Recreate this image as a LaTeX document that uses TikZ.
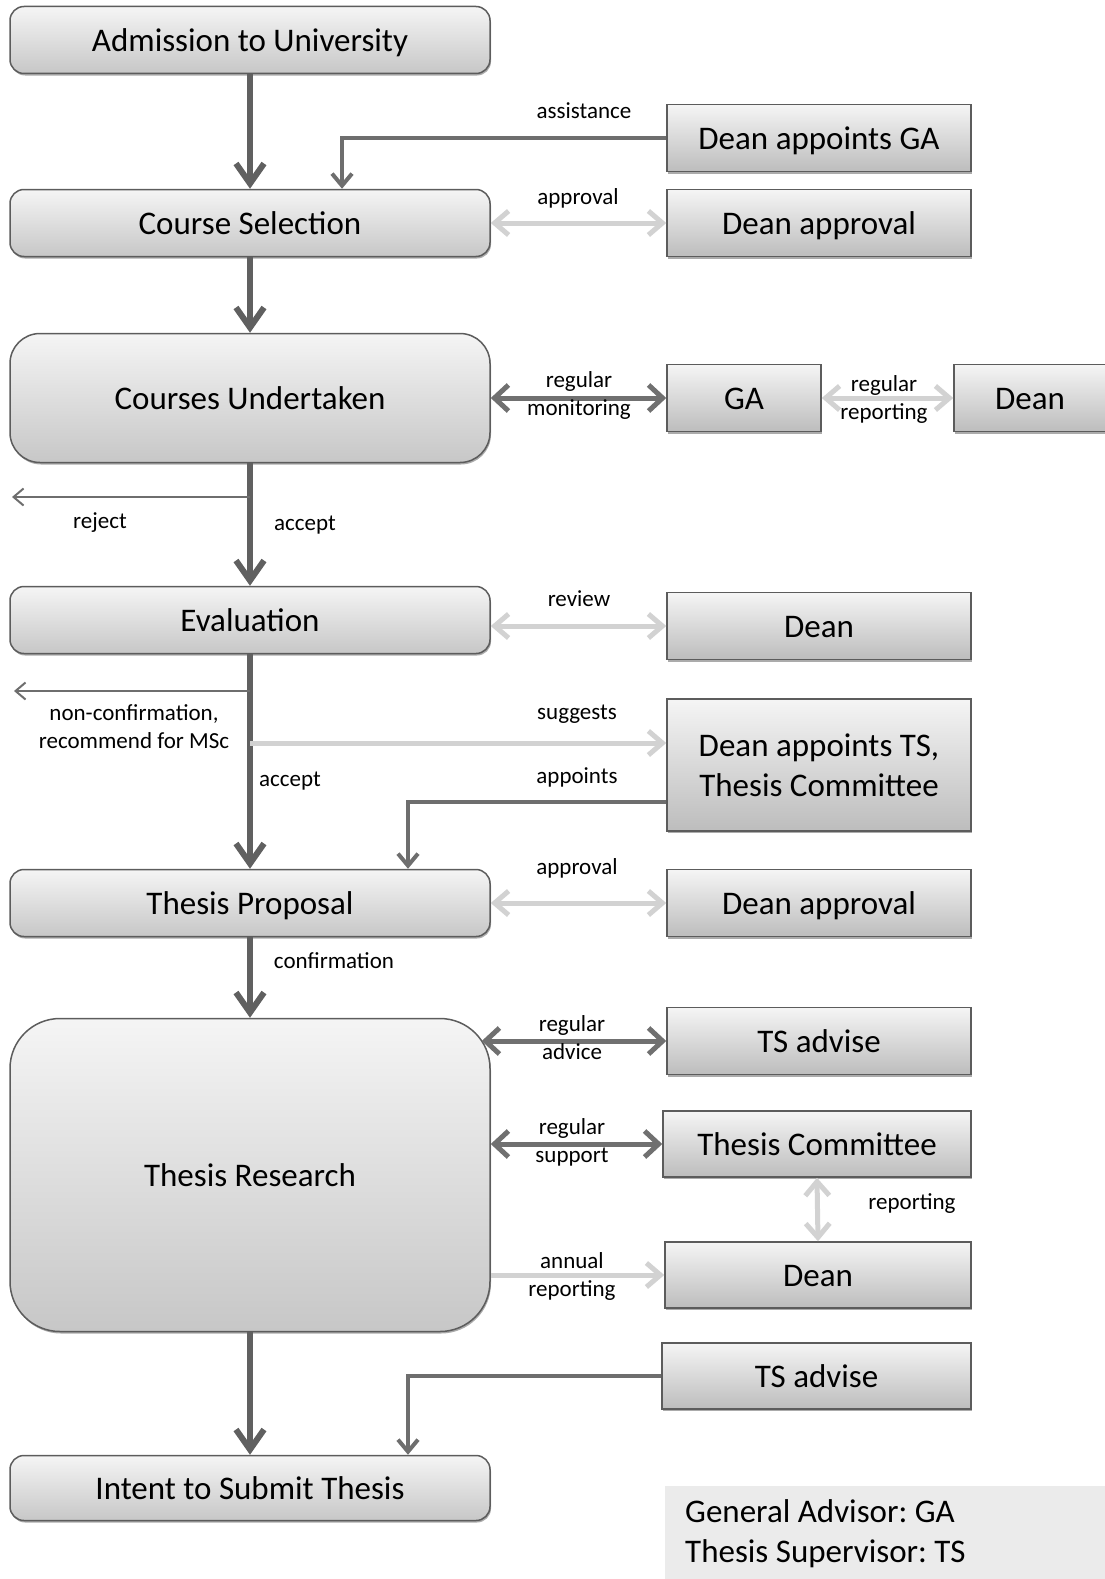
\documentclass[tikz,border=0pt]{standalone}
\usepackage{fontspec}
\setmainfont{Carlito}
\frenchspacing
\usetikzlibrary{arrows.meta, positioning, shadows, calc}
\definecolor{arrdark}{HTML}{606060}
\definecolor{arrmidc}{HTML}{6E6E6E}
\definecolor{arrlight}{HTML}{D2D2D2}
\definecolor{boxline}{HTML}{5C5C5C}
\newcommand{\bigtxt}{\fontsize{33}{40}\selectfont}
\newcommand{\smalltxt}{\fontsize{23}{28}\selectfont}

\begin{document}
\begin{tikzpicture}[x=1pt, y=-1pt,
  proc/.style={draw=boxline, line width=1.5pt, rounded corners=14pt, top color=black!4, bottom color=black!22, drop shadow={shadow xshift=1pt, shadow yshift=-2pt, fill=black!55, opacity=0.6}, minimum width=480pt, minimum height=67pt, text height=27pt, text depth=4pt, align=center, font=\bigtxt},
  rbox/.style={draw=boxline, line width=1.5pt, top color=black!4, bottom color=black!26, drop shadow={shadow xshift=1pt, shadow yshift=-2pt, fill=black!55, opacity=0.6}, minimum width=304pt, minimum height=67pt, text height=27pt, text depth=4pt, align=center, font=\bigtxt},
  legend/.style={fill=black!8, minimum width=440pt, minimum height=95pt, text width=400pt, inner xsep=20pt, align=flush left, font=\bigtxt},
  lbl/.style={inner sep=0pt, yshift=-2pt, align=center, font=\smalltxt},
  arrmain/.style={draw=arrdark, line width=6pt, -{Straight Barb[length=20pt, width=28pt, line width=6pt]}},
  arrmid/.style={draw=arrmidc, line width=4pt, -{Straight Barb[length=12pt, width=20pt, line width=4pt]}},
  arrthin/.style={draw=arrmidc, line width=2pt, -{Straight Barb[length=10pt, width=17pt, line width=2pt]}},
  arrdbl/.style={draw=arrdark!90, line width=5pt, {Straight Barb[length=14pt, width=26pt, line width=5pt]}-{Straight Barb[length=14pt, width=26pt, line width=5pt]}},
  arrlt/.style={draw=arrlight, line width=5pt, {Straight Barb[length=14pt, width=24pt, line width=5pt]}-{Straight Barb[length=14pt, width=24pt, line width=5pt]}},
  arrltone/.style={draw=arrlight, line width=5pt, -{Straight Barb[length=14pt, width=24pt, line width=5pt]}}
]
\useasboundingbox (0,0) rectangle (1104,1579);

\node[proc] (adm) at (250,40) {Admission to University};
\node[proc] (cs) at (250,223) {Course Selection};
\node[proc, minimum height=129pt, rounded corners=30pt] (cu) at (250,398) {Courses Undertaken};
\node[proc] (ev) at (250,620) {Evaluation};
\node[proc] (tp) at (250,903) {Thesis Proposal};
\node[proc, minimum height=313pt, rounded corners=50pt] (tr) at (250,1175) {Thesis Research};
\node[proc, minimum height=65pt] (its) at (250,1488) {Intent to Submit Thesis};

\node[rbox] (dga) at (819,138) {Dean appoints GA};
\node[rbox] (da1) at (819,223) {Dean approval};
\node[rbox, minimum width=154pt] (ga) at (744,398) {GA};
\node[rbox, minimum width=152pt] (dn1) at (1030,398) {Dean};
\node[rbox] (dn2) at (819,626) {Dean};
\node[rbox, minimum height=132pt, text height=67pt] (dts) at (819,765) {Dean appoints TS,\\Thesis Committee};
\node[rbox] (da2) at (819,903) {Dean approval};
\node[rbox] (ta1) at (819,1041) {TS advise};
\node[rbox, minimum width=308pt, minimum height=66pt] (tc) at (817,1144) {Thesis Committee};
\node[rbox, minimum width=306pt, minimum height=66pt] (dn3) at (818,1275) {Dean};
\node[rbox, minimum width=309pt, minimum height=66pt] (ta2) at (816.5,1376) {TS advise};

\node[legend, anchor=north west] (key) at (665,1486) {General Advisor: GA\\Thesis Supervisor: TS};

\coordinate (rejfork) at (250,497);
\coordinate (rejend) at (12,497);
\coordinate (ncfork) at (250,691);
\coordinate (ncend) at (14,691);
\coordinate (sugfork) at (250,743);

\draw[arrmain] (adm) -- (cs);
\draw[arrmain] (cs) -- (cu);
\draw[arrmain] (cu) -- (ev);
\draw[arrmain] (ev) -- (tp);
\draw[arrmain] (tp) -- (tr);
\draw[arrmain] (tr) -- (its);

\draw[arrthin] (rejfork) -- (rejend);
\draw[arrthin] (ncfork) -- (ncend);
\draw[arrltone] (sugfork) -- (dts.west |- sugfork);

\draw[arrmid] (dga.west) -| ([xshift=92pt]cs.north);
\draw[arrlt] (cs.east) -- (da1.west);
\draw[arrdbl] (cu.east) -- (ga.west);
\draw[arrlt] (ga.east) -- (dn1.west);
\draw[arrlt] (ev.east |- dn2.west) -- (dn2.west);
\draw[arrmid] ([yshift=-37pt]dts.west) -| ([xshift=158pt]tp.north);
\draw[arrlt] (tp.east) -- (da2.west);
\draw[arrdbl] ($(tr.east |- ta1.west)+(-9,0)$) -- (ta1.west);
\draw[arrdbl] (tr.east |- tc.west) -- (tc.west);
\draw[arrltone] (tr.east |- dn3.west) -- (dn3.west);
\draw[arrlt] (tc.south) -- (dn3.north);
\draw[arrmid] (ta2.west) -| ([xshift=158pt]its.north);

\node[lbl] (l1) at (584,109) {assistance};
\node[lbl] (l2) at (578,196) {approval};
\node[lbl] (l3) at (579,393) {regular\\monitoring};
\node[lbl] (l4) at (884,397) {regular\\reporting};
\node[lbl] (l5) at (100,521) {reject};
\node[lbl] (l6) at (305,523) {accept};
\node[lbl] (l7) at (579,597) {review};
\node[lbl] (l8) at (134,725) {non-confirmation,\\recommend for MSc};
\node[lbl] (l9) at (577,712) {suggests};
\node[lbl] (l10) at (290,779) {accept};
\node[lbl] (l11) at (577,775) {appoints};
\node[lbl] (l12) at (577,866) {approval};
\node[lbl] (l13) at (334,959) {confirmation};
\node[lbl] (l14) at (572,1036) {regular\\advice};
\node[lbl] (l15) at (572,1140) {regular\\support};
\node[lbl] (l16) at (912,1202) {reporting};
\node[lbl] (l17) at (572,1274) {annual\\reporting};
\end{tikzpicture}
\end{document}
